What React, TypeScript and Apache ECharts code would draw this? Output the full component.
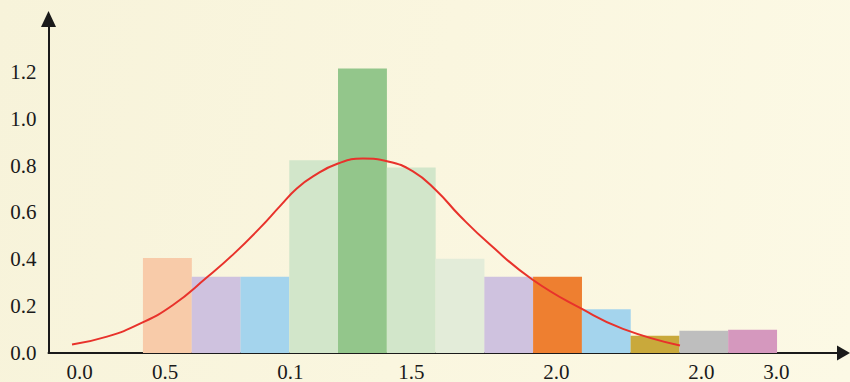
import React, { useEffect, useRef } from "react";
import * as echarts from "echarts";

// Histogram bins (bar i spans [i, i+1] on the x scale)
const binStarts = [0, 1, 2, 3, 4, 5, 6, 7, 8, 9, 10, 11, 12];
const binValues = [0.406, 0.326, 0.326, 0.823, 1.215, 0.792, 0.402, 0.326, 0.326, 0.187, 0.074, 0.095, 0.099];
const binColors = [
  "#F8CBA9", "#CFC2DF", "#A4D4ED", "#D2E6CA", "#93C68B", "#D2E6CA", "#E3ECD9",
  "#CFC2DF", "#EE7F30", "#A4D4ED", "#C9A93B", "#BEBEBE", "#D598BE",
];

// Density curve
const curveX = [-1.456, -0.738, -0.062, 0.615, 1.312, 1.845, 2.399, 2.809, 3.158, 3.486, 3.998, 4.511, 5.024, 5.536, 6.008, 6.5, 7.115, 7.976, 9.001, 9.842, 11.011];
const curveY = [0.036, 0.07, 0.125, 0.205, 0.323, 0.42, 0.534, 0.627, 0.703, 0.754, 0.809, 0.83, 0.818, 0.775, 0.695, 0.585, 0.463, 0.315, 0.188, 0.103, 0.032];

// X tick labels (as printed) and their positions on the x scale
const xTickLabels = ["0.0", "0.5", "0.1", "1.5", "2.0", "2.0", "3.0"];
const xTickPositions = [-1.298, 0.451, 3.024, 5.505, 8.478, 11.451, 12.989];

const X_MIN = -1.938;
const X_MAX = 14.364;
const Y_MAX = 1.426;

export default function App() {
  const ref = useRef<HTMLDivElement>(null);

  useEffect(() => {
    document.body.style.margin = "0";
    if (!ref.current) return;
    const chart = echarts.init(ref.current, null, { renderer: "svg" });
    const font = "Liberation Serif";

    chart.setOption({
      animation: false,
      grid: { left: 48.5, right: 6.5, top: 19, bottom: 25.5, containLabel: false },
      xAxis: {
        type: "value",
        min: X_MIN,
        max: X_MAX,
        axisLine: {
          show: true,
          onZero: false,
          lineStyle: { color: "#1a1a1a", width: 2 },
          symbol: ["none", "triangle"],
          symbolSize: [15, 13],
        },
        axisTick: { show: false },
        splitLine: { show: false },
        axisLabel: {
          customValues: xTickPositions,
          margin: 8,
          fontSize: 21,
          fontFamily: font,
          color: "#1a1a1a",
          formatter: (v: number) => {
            let best = 0;
            for (let i = 1; i < xTickPositions.length; i++) {
              if (Math.abs(xTickPositions[i] - v) < Math.abs(xTickPositions[best] - v)) best = i;
            }
            return xTickLabels[best];
          },
        },
      },
      yAxis: {
        type: "value",
        min: 0,
        max: Y_MAX,
        interval: 0.2,
        axisLine: {
          show: true,
          onZero: false,
          lineStyle: { color: "#1a1a1a", width: 2 },
          symbol: ["none", "triangle"],
          symbolSize: [15, 16],
        },
        axisTick: { show: false },
        splitLine: { show: false },
        axisLabel: {
          margin: 12,
          fontSize: 21,
          fontFamily: font,
          color: "#1a1a1a",
          formatter: (v: number) => (v > 1.21 ? "" : v.toFixed(1)),
        },
      },
      series: [
        {
          type: "bar",
          barWidth: 48.9,
          data: binStarts.map((s, i) => ({
            value: [s + 0.5, binValues[i]],
            itemStyle: { color: binColors[i] },
          })),
        },
        {
          type: "line",
          smooth: 0.5,
          symbol: "none",
          lineStyle: { color: "#E8322B", width: 2 },
          data: curveX.map((x, i) => [x, curveY[i]]),
          z: 5,
        },
      ],
    });

    return () => chart.dispose();
  }, []);

  return (
    <div
      ref={ref}
      style={{
        width: 850,
        height: 382,
        background: "linear-gradient(100deg, #f7f3da 0%, #faf6df 50%, #fcf9e5 100%)",
      }}
    />
  );
}
